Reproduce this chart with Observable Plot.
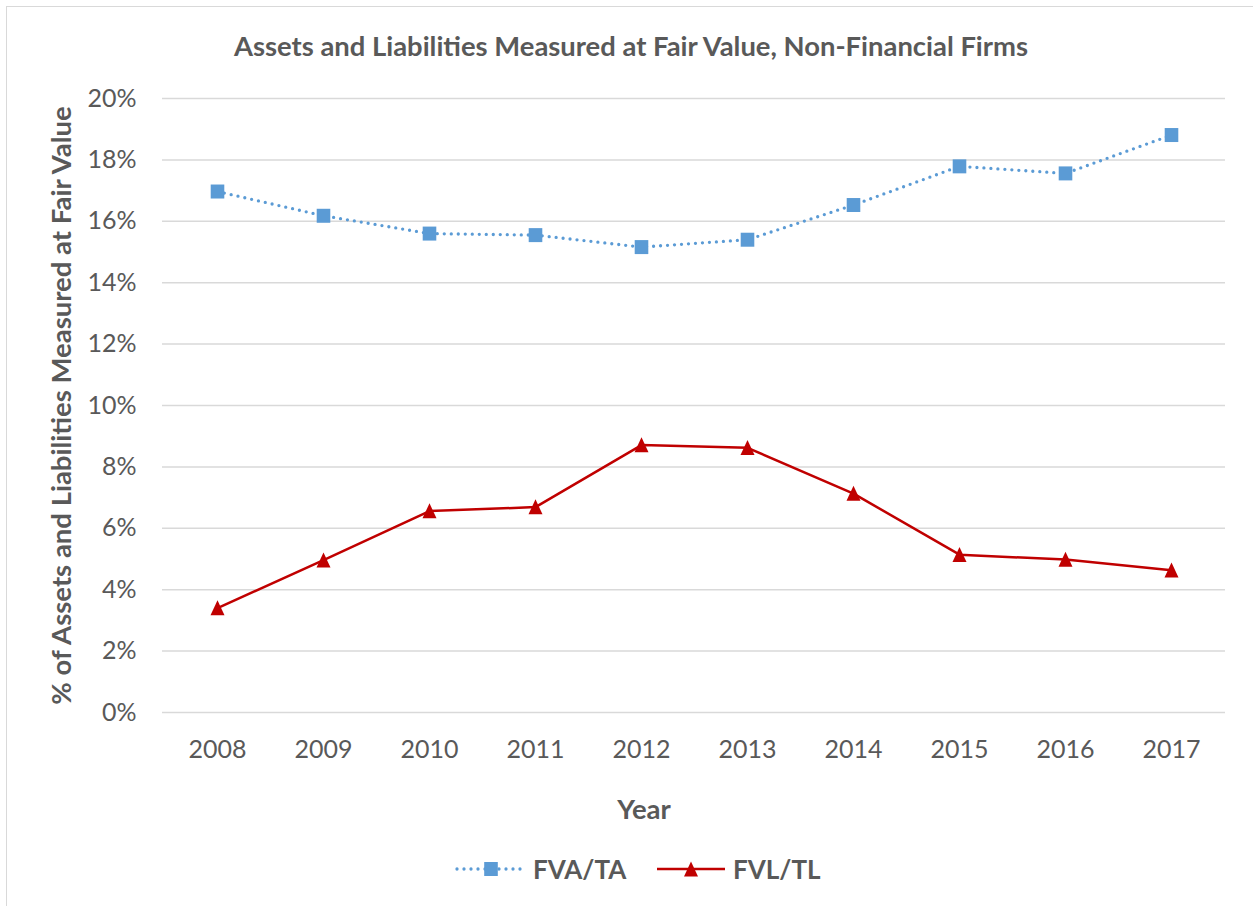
<!DOCTYPE html>
<html>
<head>
<meta charset="utf-8">
<script src="https://cdn.jsdelivr.net/npm/d3@7"></script>
<script src="https://cdn.jsdelivr.net/npm/@observablehq/plot@0.6"></script>
<style>
  html, body { margin: 0; padding: 0; background: #fff; }
  #wrap { position: relative; width: 1253px; height: 906px; overflow: hidden; font-family: Lato, "Open Sans", sans-serif; }
  #frame { position: absolute; left: 6px; top: 6px; width: 1300px; height: 1000px; border: 1.5px solid #d9d9d9; box-sizing: border-box; pointer-events: none; }
  #chart { position: absolute; left: 0; top: 0; }
  #legend { position: absolute; left: 0; top: 848px; width: 1253px; height: 42px; font-weight: bold; font-size: 26px; color: #595959; }
  .item { position: absolute; top: 1px; display: flex; align-items: center; }
  .item svg { display: block; }
</style>
</head>
<body>
<div id="wrap">
  <div id="chart"></div>
  <div id="frame"></div>
  <div id="legend"></div>
</div>
<script>
const years = [2008, 2009, 2010, 2011, 2012, 2013, 2014, 2015, 2016, 2017];
const fvaTa = [16.97, 16.18, 15.60, 15.55, 15.16, 15.40, 16.53, 17.79, 17.56, 18.81];
const fvlTl = [3.40, 4.96, 6.56, 6.69, 8.71, 8.62, 7.13, 5.14, 4.98, 4.63];
const yTicks = [0, 2, 4, 6, 8, 10, 12, 14, 16, 18, 20];
const seriesNames = ["FVA/TA", "FVL/TL"];
const titleText = "Assets and Liabilities Measured at Fair Value, Non-Financial Firms";
const yLabel = "% of Assets and Liabilities Measured at Fair Value";
const xLabel = "Year";

const blue = "#5B9BD5";
const red = "#C00000";
const textColor = "#595959";

const fva = years.map((y, i) => ({year: y, value: fvaTa[i]}));
const fvl = years.map((y, i) => ({year: y, value: fvlTl[i]}));

const squareSym = { draw(ctx) { ctx.rect(-6.8, -7, 13.6, 14); } };
const triSym = { draw(ctx) { ctx.moveTo(0, -7.8); ctx.lineTo(7, 7.2); ctx.lineTo(-7, 7.2); ctx.closePath(); } };

const chart = Plot.plot({
  width: 1253,
  height: 906,
  marginLeft: 162,
  marginRight: 28,
  marginTop: 98,
  marginBottom: 194,
  style: { fontFamily: "Lato, 'Open Sans', sans-serif", background: "transparent", color: textColor },
  x: { type: "point", domain: years, padding: 0.5, label: null },
  y: { domain: [0, 20], label: null },
  marks: [
    Plot.gridY(yTicks, { stroke: "#d9d9d9", strokeOpacity: 1, strokeWidth: 1.5 }),
    Plot.axisX({ tickSize: 0, tickPadding: 28, fontSize: 25, fill: textColor, label: null, tickFormat: d => String(d) }),
    Plot.axisY({ ticks: yTicks, tickSize: 0, tickPadding: 26, fontSize: 25, fill: textColor, label: null, tickFormat: d => d + "%" }),
    Plot.line(fva, { x: "year", y: "value", stroke: blue, strokeWidth: 3.3, strokeDasharray: "0 7", strokeLinecap: "round" }),
    Plot.line(fvl, { x: "year", y: "value", stroke: red, strokeWidth: 2.5 }),
    Plot.dot(fva, { x: "year", y: "value", symbol: squareSym, fill: blue, stroke: "none", r: 7 }),
    Plot.dot(fvl, { x: "year", y: "value", symbol: triSym, fill: red, stroke: "none", r: 7 }),
    Plot.text([titleText], { frameAnchor: "top", dy: -51, dx: -63, text: d => d, fontSize: 27.4, fontWeight: "bold", fill: textColor, lineAnchor: "middle" }),
    Plot.text([yLabel], { frameAnchor: "left", dx: -100, rotate: -90, text: d => d, fontSize: 27.5, fontWeight: "bold", fill: textColor, textAnchor: "middle", lineAnchor: "middle" }),
    Plot.text([xLabel], { frameAnchor: "bottom", dy: 98, dx: -50, text: d => d, fontSize: 27.5, fontWeight: "bold", fill: textColor, lineAnchor: "middle" })
  ]
});
document.getElementById("chart").appendChild(chart);

// legend
const legend = document.getElementById("legend");
function addItem(left, name, kind) {
  const item = document.createElement("div");
  item.className = "item";
  item.style.left = left + "px";
  const ns = "http://www.w3.org/2000/svg";
  const svg = document.createElementNS(ns, "svg");
  svg.setAttribute("width", 72); svg.setAttribute("height", 40);
  const line = document.createElementNS(ns, "line");
  line.setAttribute("x1", 2); line.setAttribute("x2", 70);
  line.setAttribute("y1", 20); line.setAttribute("y2", 20);
  if (kind === "square") {
    line.setAttribute("stroke", blue); line.setAttribute("stroke-width", 3.3);
    line.setAttribute("stroke-dasharray", "0 7"); line.setAttribute("stroke-linecap", "round");
    svg.appendChild(line);
    const r = document.createElementNS(ns, "rect");
    r.setAttribute("x", 29.2); r.setAttribute("y", 13); r.setAttribute("width", 13.6); r.setAttribute("height", 14);
    r.setAttribute("fill", blue); svg.appendChild(r);
  } else {
    line.setAttribute("stroke", red); line.setAttribute("stroke-width", 2.5);
    svg.appendChild(line);
    const p = document.createElementNS(ns, "path");
    p.setAttribute("d", "M36,12.5L43,27.5L29,27.5Z");
    p.setAttribute("fill", red); svg.appendChild(p);
  }
  item.appendChild(svg);
  const t = document.createElement("span");
  t.textContent = name;
  t.style.marginLeft = "6px";
  item.appendChild(t);
  legend.appendChild(item);
}
addItem(455, seriesNames[0], "square");
addItem(655, seriesNames[1], "triangle");
</script>
</body>
</html>
